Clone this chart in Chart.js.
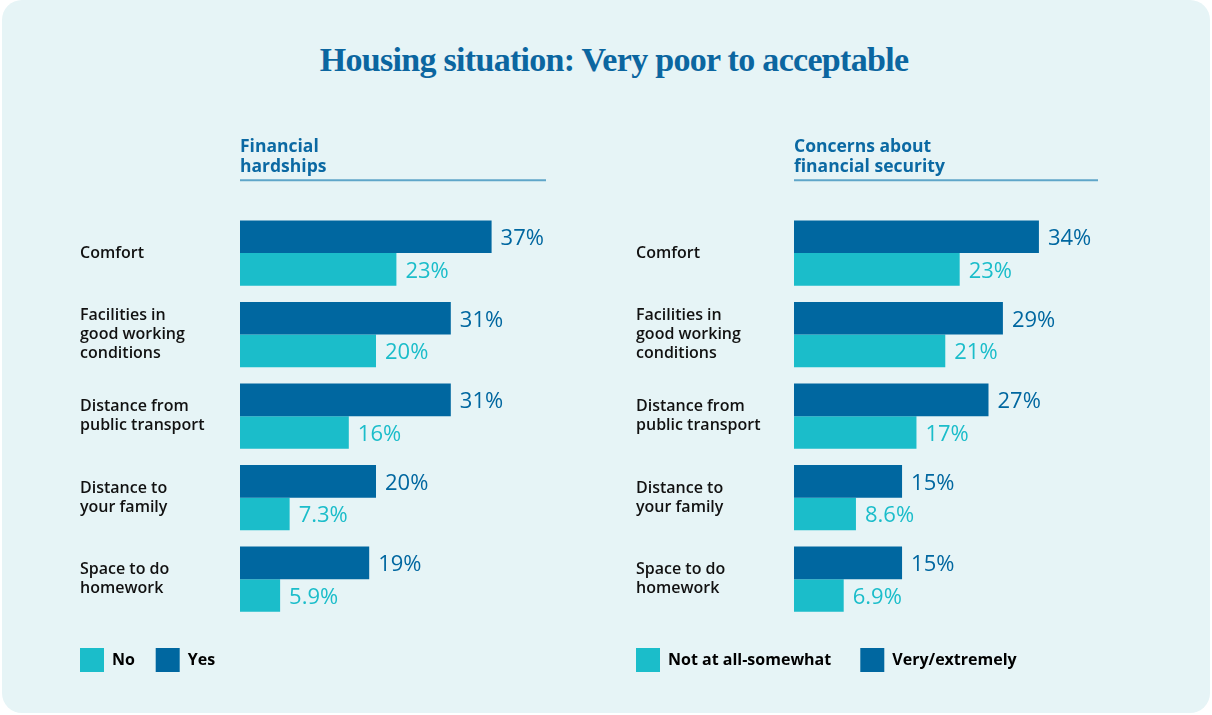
<!DOCTYPE html>
<html>
<head>
<meta charset="utf-8">
<script src="https://cdn.jsdelivr.net/npm/chart.js@4.4.1/dist/chart.umd.min.js"></script>
<style>
    body { margin: 0; background: #ffffff; }
    #carte {
        position: absolute; left: 2px; top: 0; width: 1208px; height: 713px;
        background: #e6f4f6; border-radius: 20px;
    }
    #titre {
        position: absolute; left: 0; top: 41px; width: 1224px; text-align: center;
        font-family: "Liberation Serif", serif; font-weight: bold; font-size: 34px;
        letter-spacing: -0.7px; color: #0b66a0; margin: 0;
    }
    .zone { position: absolute; top: 120px; }
</style>
</head>
<body>
<div id="carte">
    <h1 id="titre">Housing situation: Very poor to acceptable</h1>
</div>
<div class="zone" style="left:80px"><canvas id="gaucheChart" width="476" height="562"></canvas></div>
<div class="zone" style="left:636px"><canvas id="droiteChart" width="472" height="562"></canvas></div>

<script>
const categories = [
    "Comfort",
    ["Facilities in", "good working", "conditions"],
    ["Distance from", "public transport"],
    ["Distance to", "your family"],
    ["Space to do", "homework"],
];

// Financial hardships
const difficultesOui = [37, 31, 31, 20, 19];
const difficultesNon = [23, 20, 16, 7.3, 5.9];

// Concerns about financial security
const inquietudeForte = [34, 29, 27, 15, 15];
const inquietudeFaible = [23, 21, 17, 8.6, 6.9];

const bleuFonce = "#0067a0";
const bleuClair = "#1bbdca";
const police = '"Open Sans", sans-serif';

// valeur en % au bout de chaque barre
const etiquettesValeurs = {
    id: "etiquettesValeurs",
    afterDatasetsDraw(chart) {
        const ctx = chart.ctx;
        ctx.save();
        ctx.font = "500 22px " + police;
        ctx.textBaseline = "middle";
        ctx.textAlign = "left";
        chart.data.datasets.forEach((ds, i) => {
            chart.getDatasetMeta(i).data.forEach((barre, j) => {
                ctx.fillStyle = ds.backgroundColor;
                ctx.fillText(ds.data[j] + "%", barre.x + 9, barre.y + 2);
            });
        });
        ctx.restore();
    },
};

// trait sous le titre du panneau
const traitTitre = {
    id: "traitTitre",
    beforeDatasetsDraw(chart) {
        const ctx = chart.ctx;
        const zone = chart.chartArea;
        ctx.save();
        ctx.strokeStyle = "#5fa6c9";
        ctx.lineWidth = 2;
        ctx.beginPath();
        ctx.moveTo(zone.left, zone.top - 32);
        ctx.lineTo(zone.right, zone.top - 32);
        ctx.stroke();
        ctx.restore();
    },
};

function creerPanneau(canvasId, titre, libelles, donneesFortes, donneesFaibles, max, largeurAxe, espaces) {
    const ctx = document.getElementById(canvasId);
    return new Chart(ctx, {
        type: "bar",
        data: {
            labels: categories,
            datasets: [
                {
                    label: libelles[1],
                    data: donneesFortes,
                    backgroundColor: bleuFonce,
                    categoryPercentage: 0.8,
                    barPercentage: 1.0,
                },
                {
                    label: libelles[0],
                    data: donneesFaibles,
                    backgroundColor: bleuClair,
                    categoryPercentage: 0.8,
                    barPercentage: 1.0,
                },
            ],
        },
        options: {
            indexAxis: "y",
            responsive: false,
            animation: false,
            layout: { padding: { left: 0, right: 10, top: 0, bottom: 0 } },
            scales: {
                x: {
                    min: 0,
                    max: max,
                    grid: { display: false },
                    border: { display: false },
                    ticks: { display: false },
                    afterFit(scale) { scale.height = 28; },
                },
                y: {
                    grid: { display: false },
                    border: { display: false },
                    ticks: {
                        crossAlign: "far",
                        color: "#111111",
                        font: { family: police, size: 16, weight: "600", lineHeight: 1.19 },
                    },
                    afterFit(scale) { scale.width = largeurAxe; },
                },
            },
            plugins: {
                title: {
                    display: true,
                    text: titre,
                    align: "start",
                    fullSize: false,
                    color: "#0b69a3",
                    font: { family: police, size: 17.5, weight: "bold", lineHeight: 1.15 },
                    padding: { top: 17, bottom: 35 },
                },
                legend: {
                    position: "bottom",
                    align: "start",
                    labels: {
                        boxWidth: 24,
                        boxHeight: 24,
                        padding: 0,
                        color: "#0b69a3",
                        font: { family: police, size: 16, weight: "bold" },
                        // "No" avant "Yes", avec un blanc entre les deux
                        generateLabels(chart) {
                            const ds = chart.data.datasets;
                            return [
                                { text: ds[1].label + espaces, fillStyle: ds[1].backgroundColor, strokeStyle: ds[1].backgroundColor, lineWidth: 0, datasetIndex: 1 },
                                { text: ds[0].label, fillStyle: ds[0].backgroundColor, strokeStyle: ds[0].backgroundColor, lineWidth: 0, datasetIndex: 0 },
                            ];
                        },
                    },
                },
                tooltip: { enabled: false },
            },
        },
        plugins: [etiquettesValeurs, traitTitre],
    });
}

creerPanneau("gaucheChart", ["Financial", "hardships"], ["No", "Yes"],
    difficultesOui, difficultesNon, 45, 160, "     ");
creerPanneau("droiteChart", ["Concerns about", "financial security"], ["Not at all-somewhat", "Very/extremely"],
    inquietudeForte, inquietudeFaible, 42.2, 158, "       ");
</script>
</body>
</html>
